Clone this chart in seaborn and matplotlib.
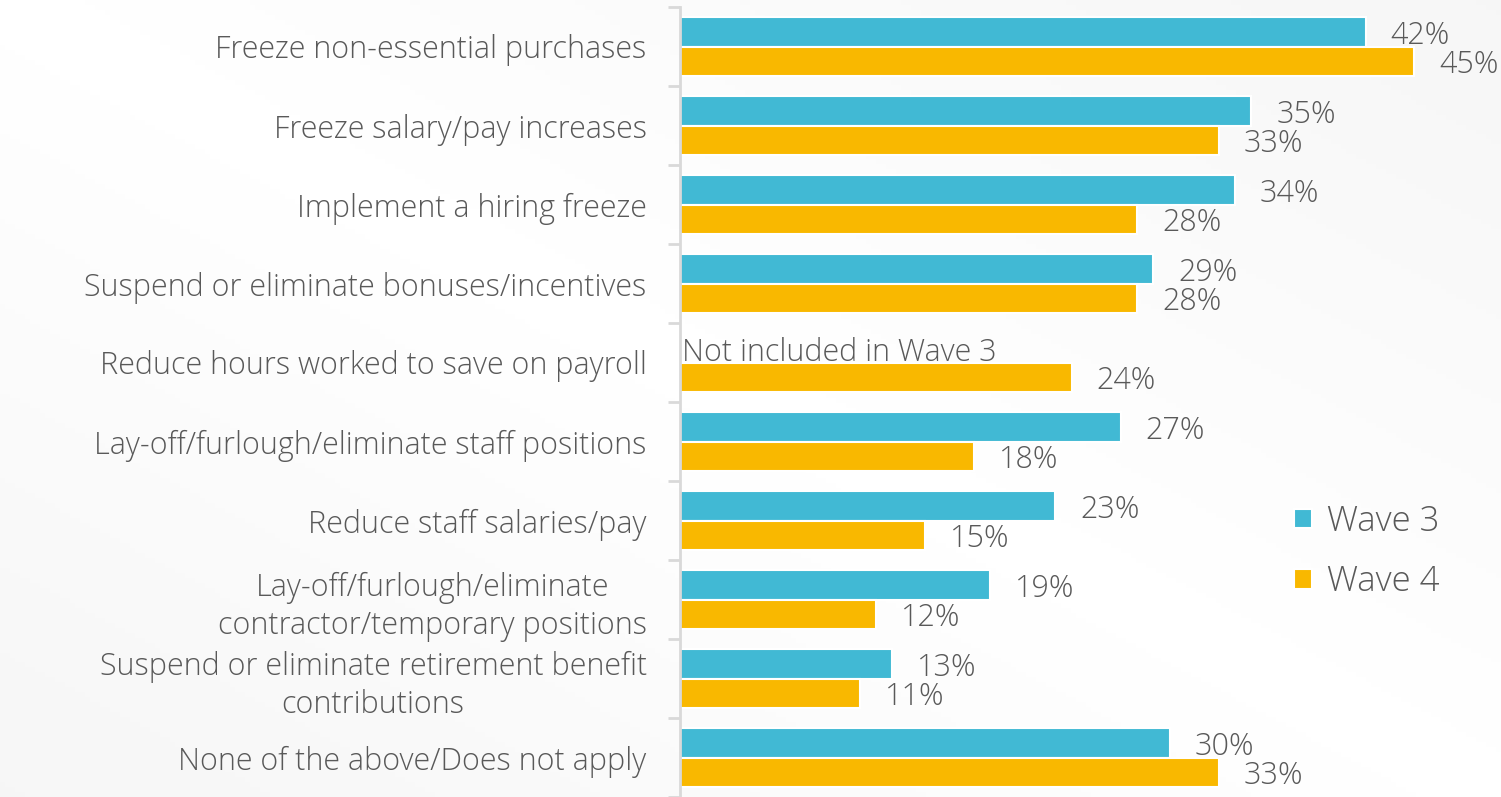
import numpy as np
import pandas as pd
import matplotlib
matplotlib.use("Agg")
import matplotlib.pyplot as plt
import seaborn as sns

categories = [
    "Freeze non-essential purchases",
    "Freeze salary/pay increases",
    "Implement a hiring freeze",
    "Suspend or eliminate bonuses/incentives",
    "Reduce hours worked to save on payroll",
    "Lay-off/furlough/eliminate staff positions",
    "Reduce staff salaries/pay",
    "Lay-off/furlough/eliminate\ncontractor/temporary positions",
    "Suspend or eliminate retirement benefit\ncontributions",
    "None of the above/Does not apply",
]
wave3 = [42, 35, 34, 29, np.nan, 27, 23, 19, 13, 30]
wave4 = [45, 33, 28, 28, 24, 18, 15, 12, 11, 33]
waves = ["Wave 3", "Wave 4"]
colors = ["#41B9D4", "#F9B800"]

df = pd.concat([
    pd.DataFrame({"action": categories, "pct": wave3, "wave": waves[0]}),
    pd.DataFrame({"action": categories, "pct": wave4, "wave": waves[1]}),
]).dropna()

text_color = "#595959"
plt.rcParams["font.family"] = ["Open Sans", "DejaVu Sans"]
plt.rcParams["font.weight"] = "light"

fig = plt.figure(figsize=(15.01, 7.97), dpi=100)

# faint diagonal background shading
bg = fig.add_axes([0, 0, 1, 1], zorder=-10)
gx, gy = np.meshgrid(np.linspace(0, 1, 300), np.linspace(0, 1, 160))
bg.imshow(np.abs(gx - gy), cmap="Greys", vmin=0, vmax=14, aspect="auto",
          extent=[0, 1, 1, 0])
bg.axis("off")

ax = fig.add_axes([680 / 1501, 0, 1 - 680 / 1501, 1 - 7 / 797])
ax.patch.set_alpha(0)

sns.barplot(data=df, y="action", x="pct", hue="wave", order=categories,
            hue_order=waves, palette=colors, saturation=1, orient="h",
            width=0.75, edgecolor="white", linewidth=1.5, ax=ax,
            errorbar=None)

ax.set_xlim(0, 50.3)
ax.set_ylim(len(categories) - 0.5, -0.5)
ax.set_xlabel("")
ax.set_ylabel("")
ax.set_xticks([])

for c in ax.containers:
    for ann in ax.bar_label(c, fmt="%d%%", padding=18, fontsize=22,
                            color=text_color):
        ann.xyann = (18, -3)

ax.text(0.1, 4 - 0.12, "Not included in Wave 3", va="center", ha="left",
        fontsize=22, color=text_color)

ax.set_yticks(range(len(categories)))
ax.set_yticklabels(categories, fontsize=22, color=text_color,
                   multialignment="center", linespacing=1.25)
ax.tick_params(axis="y", which="major", length=0, pad=24)
ax.set_yticks(np.arange(-0.5, len(categories), 1), minor=True)
ax.tick_params(axis="y", which="minor", length=9, width=2, color="#D9D9D9")

for s in ["top", "right", "bottom"]:
    ax.spines[s].set_visible(False)
ax.spines["left"].set_color("#D9D9D9")
ax.spines["left"].set_linewidth(2)

leg = ax.legend(loc="upper left", bbox_to_anchor=(0.71, 0.41),
                frameon=False, fontsize=25, handlelength=0.5,
                handleheight=0.5, handletextpad=0.45, labelspacing=0.75)
for t in leg.get_texts():
    t.set_color(text_color)

fig.savefig("out.png", dpi=100)
